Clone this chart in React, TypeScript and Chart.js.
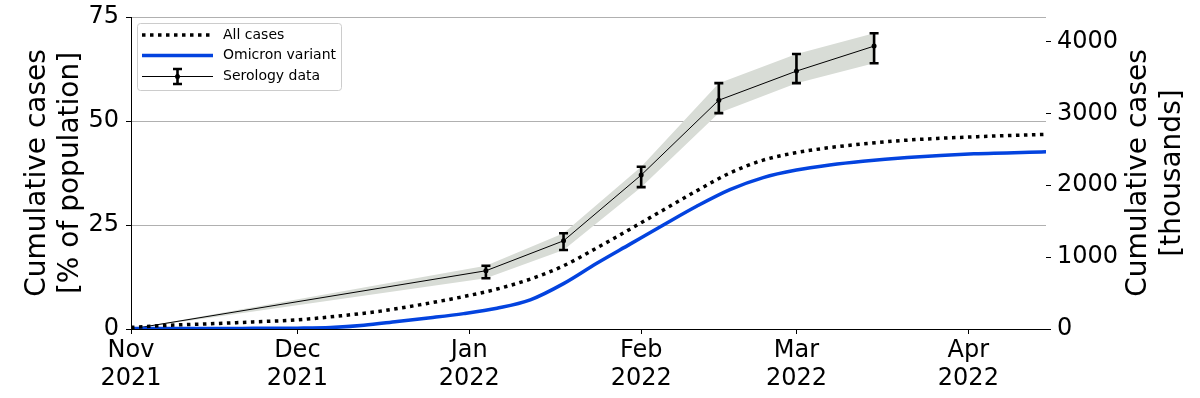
import React, { useEffect, useRef } from "react";
import { Chart, registerables } from "chart.js";

Chart.register(...registerables);

// ---- data (x = days since 1 Nov 2021) ----
const monthTickDays = [0, 30, 61, 92, 120, 151];
const monthTickLabels = [
  ["Nov", "2021"],
  ["Dec", "2021"],
  ["Jan", "2022"],
  ["Feb", "2022"],
  ["Mar", "2022"],
  ["Apr", "2022"],
];
const xMaxDay = 165;

const allCasesDays = [0, 7, 15, 22, 30, 38, 45, 52, 60, 66, 72, 78, 84, 90, 96, 102, 108, 114, 120, 126, 132, 140, 152, 165];
const allCasesPct = [0.4, 0.9, 1.3, 1.7, 2.2, 3.2, 4.3, 5.8, 7.8, 9.6, 12.0, 15.2, 19.5, 24.0, 28.6, 33.2, 37.5, 40.6, 42.4, 43.6, 44.5, 45.4, 46.2, 46.8];

const omicronDays = [0, 20, 30, 36, 42, 48, 54, 60, 66, 72, 78, 84, 90, 96, 102, 108, 114, 120, 126, 132, 140, 152, 165];
const omicronPct = [0.15, 0.15, 0.2, 0.35, 0.9, 1.8, 2.7, 3.7, 5.0, 7.0, 10.9, 15.8, 20.4, 25.0, 29.5, 33.5, 36.4, 38.2, 39.4, 40.3, 41.2, 42.1, 42.6];

const serologyDays = [0, 64, 78, 92, 106, 120, 134];
const serologyPct = [0, 14.0, 21.2, 37.0, 55.0, 62.0, 68.0];
const serologyLow = [0, 12.2, 19.0, 34.1, 51.9, 59.1, 63.9];
const serologyHigh = [0, 15.2, 23.0, 39.0, 59.1, 66.1, 71.1];

const leftTicks = [0, 25, 50, 75];
const rightTicks = [0, 1000, 2000, 3000, 4000];
const leftMax = 75;
const rightMaxThousands = 4340;

const leftTitle = ["Cumulative cases", "[% of population]"];
const rightTitle = ["Cumulative cases", "[thousands]"];

const FONT = '"DejaVu Sans", "Liberation Sans", sans-serif';
const BLUE = "#0343df";
const BAND = "#d8dcd6";

const pts = (xs: number[], ys: number[]) => xs.map((x, i) => ({ x, y: ys[i] }));

const titlesPlugin = {
  id: "sideTitles",
  afterDraw(chart: any) {
    const { ctx, chartArea } = chart;
    const cy = (chartArea.top + chartArea.bottom) / 2;
    ctx.save();
    ctx.fillStyle = "#000";
    ctx.font = `28px ${FONT}`;
    ctx.textAlign = "center";
    ctx.textBaseline = "alphabetic";
    const draw = (lines: string[], xs: number[]) => {
      lines.forEach((t, i) => {
        ctx.save();
        ctx.translate(xs[i], cy);
        ctx.rotate(-Math.PI / 2);
        ctx.fillText(t, 0, 0);
        ctx.restore();
      });
    };
    draw(leftTitle, [44.5, 78]);
    draw(rightTitle, [1146, 1179.5]);
    ctx.restore();
  },
};

const errorBarPlugin = {
  id: "errorBars",
  afterDatasetsDraw(chart: any) {
    const { ctx } = chart;
    const xs = chart.scales.x;
    const ys = chart.scales.y;
    ctx.save();
    ctx.strokeStyle = "#000";
    ctx.lineWidth = 2.6;
    ctx.lineCap = "butt";
    serologyDays.forEach((d, i) => {
      if (serologyHigh[i] - serologyLow[i] <= 0) return;
      const x = xs.getPixelForValue(d);
      const y1 = ys.getPixelForValue(serologyLow[i]);
      const y2 = ys.getPixelForValue(serologyHigh[i]);
      ctx.beginPath();
      ctx.moveTo(x, y1);
      ctx.lineTo(x, y2);
      ctx.moveTo(x - 4.5, y1);
      ctx.lineTo(x + 4.5, y1);
      ctx.moveTo(x - 4.5, y2);
      ctx.lineTo(x + 4.5, y2);
      ctx.stroke();
    });
    ctx.restore();
  },
};

const legendPlugin = {
  id: "boxLegend",
  afterDraw(chart: any) {
    const { ctx } = chart;
    const ds = chart.data.datasets;
    ctx.save();
    const bx = 137.5, by = 23.5, bw = 204, bh = 67;
    ctx.beginPath();
    (ctx as any).roundRect(bx, by, bw, bh, 3);
    ctx.fillStyle = "rgba(255,255,255,0.8)";
    ctx.fill();
    ctx.strokeStyle = "#cccccc";
    ctx.lineWidth = 1;
    ctx.stroke();

    const x0 = 142, x1 = 213, tx = 223;
    const rows = [35, 55.5, 76.5];
    ctx.beginPath();
    ctx.setLineDash([3.5, 4.5]);
    ctx.lineWidth = 3.5;
    ctx.strokeStyle = "#000";
    ctx.moveTo(x0, rows[0]);
    ctx.lineTo(x1, rows[0]);
    ctx.stroke();
    ctx.setLineDash([]);
    ctx.beginPath();
    ctx.lineWidth = 3.5;
    ctx.strokeStyle = BLUE;
    ctx.moveTo(x0, rows[1]);
    ctx.lineTo(x1, rows[1]);
    ctx.stroke();
    ctx.beginPath();
    ctx.lineWidth = 1;
    ctx.strokeStyle = "#000";
    ctx.moveTo(x0, rows[2]);
    ctx.lineTo(x1, rows[2]);
    ctx.stroke();
    const mx = (x0 + x1) / 2;
    ctx.beginPath();
    ctx.lineWidth = 2.6;
    ctx.moveTo(mx, rows[2] - 7.5);
    ctx.lineTo(mx, rows[2] + 7.5);
    ctx.moveTo(mx - 4.5, rows[2] - 7.5);
    ctx.lineTo(mx + 4.5, rows[2] - 7.5);
    ctx.moveTo(mx - 4.5, rows[2] + 7.5);
    ctx.lineTo(mx + 4.5, rows[2] + 7.5);
    ctx.stroke();
    ctx.beginPath();
    ctx.fillStyle = "#000";
    ctx.arc(mx, rows[2], 2.5, 0, Math.PI * 2);
    ctx.fill();

    ctx.fillStyle = "#000";
    ctx.font = `14px ${FONT}`;
    ctx.textAlign = "left";
    ctx.textBaseline = "middle";
    for (let i = 0; i < 3; i++) ctx.fillText(ds[i].label, tx, rows[i]);
    ctx.restore();
  },
};

export default function App() {
  const ref = useRef<HTMLCanvasElement | null>(null);

  useEffect(() => {
    if (!ref.current) return;
    Chart.defaults.font.family = FONT;
    Chart.defaults.color = "#000";
    const chart = new Chart(ref.current, {
      type: "line",
      data: {
        datasets: [
          {
            label: "All cases",
            data: pts(allCasesDays, allCasesPct),
            borderColor: "#000",
            borderWidth: 3.5,
            borderDash: [3.5, 4.5],
            borderCapStyle: "butt",
            pointRadius: 0,
            pointHoverRadius: 0,
            cubicInterpolationMode: "monotone",
            fill: false,
            yAxisID: "y",
            order: 1,
          },
          {
            label: "Omicron variant",
            data: pts(omicronDays, omicronPct),
            borderColor: BLUE,
            borderWidth: 3.5,
            pointRadius: 0,
            pointHoverRadius: 0,
            cubicInterpolationMode: "monotone",
            fill: false,
            yAxisID: "y",
            order: 2,
          },
          {
            label: "Serology data",
            data: pts(serologyDays, serologyPct),
            borderColor: "#000",
            borderWidth: 1,
            tension: 0,
            pointRadius: serologyDays.map((_, i) => (i === 0 ? 0 : 2.5)),
            pointHoverRadius: 0,
            pointBackgroundColor: "#000",
            pointBorderWidth: 0,
            fill: false,
            yAxisID: "y",
            order: 3,
          },
          {
            label: "band-high",
            data: pts(serologyDays, serologyHigh),
            borderWidth: 0,
            borderColor: "rgba(0,0,0,0)",
            backgroundColor: BAND,
            pointRadius: 0,
            pointHoverRadius: 0,
            tension: 0,
            fill: "+1",
            yAxisID: "y",
            order: 10,
          },
          {
            label: "band-low",
            data: pts(serologyDays, serologyLow),
            borderWidth: 0,
            borderColor: "rgba(0,0,0,0)",
            pointRadius: 0,
            pointHoverRadius: 0,
            tension: 0,
            fill: false,
            yAxisID: "y",
            order: 11,
          },
        ],
      },
      options: {
        animation: false,
        responsive: false,
        devicePixelRatio: 1,
        layout: { autoPadding: false, padding: { top: 17, left: 0, right: 0, bottom: 0 } },
        plugins: {
          legend: { display: false },
          tooltip: { enabled: false },
        },
        scales: {
          x: {
            type: "linear",
            position: "bottom",
            min: 0,
            max: xMaxDay,
            afterBuildTicks: (scale: any) => {
              scale.ticks = monthTickDays.map((v) => ({ value: v }));
            },
            afterFit: (scale: any) => {
              scale.height = 69;
            },
            ticks: {
              autoSkip: false,
              maxRotation: 0,
              minRotation: 0,
              padding: 3,
              color: "#000",
              font: { size: 24, family: FONT, lineHeight: 1.17 },
              callback: (value: any) => {
                const i = monthTickDays.indexOf(Number(value));
                return i >= 0 ? monthTickLabels[i] : "";
              },
            },
            grid: {
              drawOnChartArea: false,
              drawTicks: true,
              tickLength: 5,
              tickColor: "#000",
              tickWidth: 1,
            },
            border: { display: true, color: "#000", width: 1 },
          },
          y: {
            type: "linear",
            position: "left",
            min: 0,
            max: leftMax,
            afterBuildTicks: (scale: any) => {
              scale.ticks = leftTicks.map((v) => ({ value: v }));
            },
            afterFit: (scale: any) => {
              scale.width = 131;
            },
            ticks: {
              padding: 7,
              color: "#000",
              font: { size: 24, family: FONT, lineHeight: 0.5 },
              callback: (v: any) => String(v),
            },
            grid: {
              drawOnChartArea: true,
              color: (ctx: any) => (ctx.tick && ctx.tick.value === 0 ? "rgba(0,0,0,0)" : "#b0b0b0"),
              lineWidth: 1,
              tickLength: 5,
              tickColor: "#000",
              tickWidth: 1,
            },
            border: { display: true, color: "#000", width: 1 },
          },
          y2: {
            type: "linear",
            position: "right",
            min: 0,
            max: rightMaxThousands,
            afterBuildTicks: (scale: any) => {
              scale.ticks = rightTicks.map((v) => ({ value: v }));
            },
            afterFit: (scale: any) => {
              scale.width = 154;
            },
            ticks: {
              padding: 6,
              color: "#000",
              font: { size: 24, family: FONT, lineHeight: 0.5 },
              callback: (v: any) => String(v),
            },
            grid: {
              drawOnChartArea: false,
              drawTicks: true,
              tickLength: 5,
              tickColor: "#000",
              tickWidth: 1,
            },
            border: { display: false },
          },
        },
      } as any,
      plugins: [errorBarPlugin, legendPlugin, titlesPlugin],
    });
    return () => chart.destroy();
  }, []);

  return (
    <div style={{ position: "fixed", left: 0, top: 0, width: 1200, height: 398, background: "#fff" }}>
      <canvas ref={ref} width={1200} height={398} style={{ display: "block", width: 1200, height: 398 }} />
    </div>
  );
}
